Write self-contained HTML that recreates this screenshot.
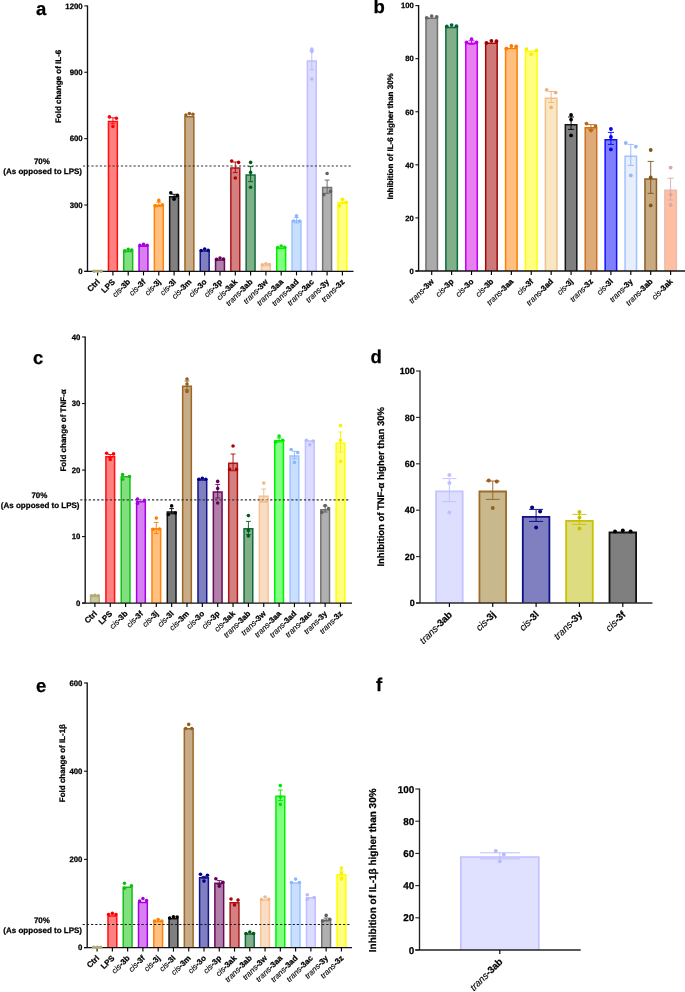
<!DOCTYPE html>
<html><head><meta charset="utf-8"><style>
html,body{margin:0;padding:0;background:#fff;}
body{width:685px;height:992px;overflow:hidden;font-family:"Liberation Sans", sans-serif;}
svg{display:block;will-change:transform;}
</style></head><body>
<svg width="685" height="992" viewBox="0 0 685 992" font-family='"Liberation Sans", sans-serif' fill="#000">
<style>text{stroke:#000;stroke-width:0.25px;text-rendering:geometricPrecision;}</style>
<g>
<rect width="685" height="992" fill="#fff"/>
<text x="36" y="14.6" font-size="18.5" font-weight="bold" text-anchor="start">a</text>
<text transform="translate(61,86.4) rotate(-90)" font-size="8" font-weight="bold" text-anchor="middle">Fold change of IL-6</text>
<text x="41.9" y="163.8" font-size="8" font-weight="bold" text-anchor="middle">70%</text>
<text x="42.7" y="173.7" font-size="8" font-weight="bold" text-anchor="middle">(As opposed to LPS)</text>
<path d="M93.15 271.4V270.9H102.05V271.4Z" fill="#cac8a0" stroke="none"/>
<path d="M93.15 271.4V270.9H102.05V271.4" fill="none" stroke="#b5ab72" stroke-width="1.5" stroke-linejoin="miter"/>
<path d="M108.45 271.4V121.55H117.35V271.4Z" fill="#ff8080" stroke="none"/>
<path d="M108.45 271.4V121.55H117.35V271.4" fill="none" stroke="#ff1111" stroke-width="1.5" stroke-linejoin="miter"/>
<path d="M123.75 271.4V251.45H132.65V271.4Z" fill="#80e080" stroke="none"/>
<path d="M123.75 271.4V251.45H132.65V271.4" fill="none" stroke="#14c014" stroke-width="1.5" stroke-linejoin="miter"/>
<path d="M139.05 271.4V246.25H147.95V271.4Z" fill="#d880f0" stroke="none"/>
<path d="M139.05 271.4V246.25H147.95V271.4" fill="none" stroke="#a800e6" stroke-width="1.5" stroke-linejoin="miter"/>
<path d="M154.35 271.4V205.15H163.25V271.4Z" fill="#ffc080" stroke="none"/>
<path d="M154.35 271.4V205.15H163.25V271.4" fill="none" stroke="#ff8410" stroke-width="1.5" stroke-linejoin="miter"/>
<path d="M169.65 271.4V196.85H178.55V271.4Z" fill="#808080" stroke="none"/>
<path d="M169.65 271.4V196.85H178.55V271.4" fill="none" stroke="#141414" stroke-width="1.5" stroke-linejoin="miter"/>
<path d="M184.95 271.4V116.75H193.85V271.4Z" fill="#c8ab88" stroke="none"/>
<path d="M184.95 271.4V116.75H193.85V271.4" fill="none" stroke="#9c6826" stroke-width="1.5" stroke-linejoin="miter"/>
<path d="M200.25 271.4V251.05H209.15V271.4Z" fill="#8080c0" stroke="none"/>
<path d="M200.25 271.4V251.05H209.15V271.4" fill="none" stroke="#14148c" stroke-width="1.5" stroke-linejoin="miter"/>
<path d="M215.55 271.4V259.95H224.45V271.4Z" fill="#b080a8" stroke="none"/>
<path d="M215.55 271.4V259.95H224.45V271.4" fill="none" stroke="#6a0a5e" stroke-width="1.5" stroke-linejoin="miter"/>
<path d="M230.85 271.4V168.05H239.75V271.4Z" fill="#d48080" stroke="none"/>
<path d="M230.85 271.4V168.05H239.75V271.4" fill="none" stroke="#a81818" stroke-width="1.5" stroke-linejoin="miter"/>
<path d="M246.15 271.4V174.95H255.05V271.4Z" fill="#80b088" stroke="none"/>
<path d="M246.15 271.4V174.95H255.05V271.4" fill="none" stroke="#106a40" stroke-width="1.5" stroke-linejoin="miter"/>
<path d="M261.45 271.4V265.45H270.35V271.4Z" fill="#f9dcc4" stroke="none"/>
<path d="M261.45 271.4V265.45H270.35V271.4" fill="none" stroke="#f4c494" stroke-width="1.5" stroke-linejoin="miter"/>
<path d="M276.75 271.4V248.25H285.65V271.4Z" fill="#80ff80" stroke="none"/>
<path d="M276.75 271.4V248.25H285.65V271.4" fill="none" stroke="#00f000" stroke-width="1.5" stroke-linejoin="miter"/>
<path d="M292.05 271.4V220.95H300.95V271.4Z" fill="#c8dfff" stroke="none"/>
<path d="M292.05 271.4V220.95H300.95V271.4" fill="none" stroke="#9cc4ff" stroke-width="1.5" stroke-linejoin="miter"/>
<path d="M307.35 271.4V60.95H316.25V271.4Z" fill="#dcdcff" stroke="none"/>
<path d="M307.35 271.4V60.95H316.25V271.4" fill="none" stroke="#c0c0ff" stroke-width="1.5" stroke-linejoin="miter"/>
<path d="M322.65 271.4V187.45H331.55V271.4Z" fill="#b0b0b0" stroke="none"/>
<path d="M322.65 271.4V187.45H331.55V271.4" fill="none" stroke="#747474" stroke-width="1.5" stroke-linejoin="miter"/>
<path d="M337.95 271.4V202.55H346.85V271.4Z" fill="#ffff80" stroke="none"/>
<path d="M337.95 271.4V202.55H346.85V271.4" fill="none" stroke="#ffff00" stroke-width="1.5" stroke-linejoin="miter"/>
<path d="M82.96 166H351.3" stroke="#333" stroke-width="1.2" stroke-dasharray="2.2 2.015" fill="none"/>
<path d="M87.5 5.4V271.4" stroke="#111" stroke-width="1.35" fill="none"/>
<path d="M84.3 271.4H353.5" stroke="#111" stroke-width="1.35" fill="none"/>
<path d="M84.3 271.4H87.5" stroke="#111" stroke-width="1.1" fill="none"/>
<text x="82.7" y="274.19" font-size="7.8" font-weight="bold" text-anchor="end">0</text>
<path d="M84.3 205.02H87.5" stroke="#111" stroke-width="1.1" fill="none"/>
<text x="82.7" y="207.82" font-size="7.8" font-weight="bold" text-anchor="end">300</text>
<path d="M84.3 138.65H87.5" stroke="#111" stroke-width="1.1" fill="none"/>
<text x="82.7" y="141.44" font-size="7.8" font-weight="bold" text-anchor="end">600</text>
<path d="M84.3 72.27H87.5" stroke="#111" stroke-width="1.1" fill="none"/>
<text x="82.7" y="75.07" font-size="7.8" font-weight="bold" text-anchor="end">900</text>
<path d="M84.3 5.9H87.5" stroke="#111" stroke-width="1.1" fill="none"/>
<text x="82.7" y="8.69" font-size="7.8" font-weight="bold" text-anchor="end">1200</text>
<path d="M97.6 271.4V275.4" stroke="#000" stroke-width="1.15" fill="none"/>
<path d="M112.9 271.4V275.4" stroke="#000" stroke-width="1.15" fill="none"/>
<path d="M128.2 271.4V275.4" stroke="#000" stroke-width="1.15" fill="none"/>
<path d="M143.5 271.4V275.4" stroke="#000" stroke-width="1.15" fill="none"/>
<path d="M158.8 271.4V275.4" stroke="#000" stroke-width="1.15" fill="none"/>
<path d="M174.1 271.4V275.4" stroke="#000" stroke-width="1.15" fill="none"/>
<path d="M189.4 271.4V275.4" stroke="#000" stroke-width="1.15" fill="none"/>
<path d="M204.7 271.4V275.4" stroke="#000" stroke-width="1.15" fill="none"/>
<path d="M220 271.4V275.4" stroke="#000" stroke-width="1.15" fill="none"/>
<path d="M235.3 271.4V275.4" stroke="#000" stroke-width="1.15" fill="none"/>
<path d="M250.6 271.4V275.4" stroke="#000" stroke-width="1.15" fill="none"/>
<path d="M265.9 271.4V275.4" stroke="#000" stroke-width="1.15" fill="none"/>
<path d="M281.2 271.4V275.4" stroke="#000" stroke-width="1.15" fill="none"/>
<path d="M296.5 271.4V275.4" stroke="#000" stroke-width="1.15" fill="none"/>
<path d="M311.8 271.4V275.4" stroke="#000" stroke-width="1.15" fill="none"/>
<path d="M327.1 271.4V275.4" stroke="#000" stroke-width="1.15" fill="none"/>
<path d="M342.4 271.4V275.4" stroke="#000" stroke-width="1.15" fill="none"/>
<circle cx="94.2" cy="271.2" r="1.8" fill="#b3aa74"/>
<circle cx="97.6" cy="271.2" r="1.8" fill="#b3aa74"/>
<circle cx="101" cy="271.2" r="1.8" fill="#b3aa74"/>
<path d="M112.9 117.8V123.8M110.46 117.8H115.34M110.46 123.8H115.34" stroke="#ff0000" stroke-width="0.9" fill="none"/>
<circle cx="109.4" cy="116.9" r="1.8" fill="#ff0000"/>
<circle cx="116.4" cy="118.2" r="1.8" fill="#ff0000"/>
<circle cx="112.9" cy="126.5" r="1.8" fill="#ff0000"/>
<circle cx="124.7" cy="250.9" r="1.8" fill="#10c010"/>
<circle cx="128.2" cy="249.4" r="1.8" fill="#10c010"/>
<circle cx="131.7" cy="250.1" r="1.8" fill="#10c010"/>
<circle cx="139.9" cy="245.4" r="1.8" fill="#a400e4"/>
<circle cx="143.5" cy="244.4" r="1.8" fill="#a400e4"/>
<circle cx="147.1" cy="245.2" r="1.8" fill="#a400e4"/>
<path d="M158.8 202.2V206.6M156.36 202.2H161.24M156.36 206.6H161.24" stroke="#ff8000" stroke-width="0.9" fill="none"/>
<circle cx="158.8" cy="200.4" r="1.8" fill="#ff8000"/>
<circle cx="155.2" cy="205.9" r="1.8" fill="#ff8000"/>
<circle cx="162.4" cy="204.9" r="1.8" fill="#ff8000"/>
<path d="M174.1 194.3V197.9M171.66 194.3H176.54M171.66 197.9H176.54" stroke="#000000" stroke-width="0.9" fill="none"/>
<circle cx="170.8" cy="192.9" r="1.8" fill="#000000"/>
<circle cx="177.4" cy="195.2" r="1.8" fill="#000000"/>
<circle cx="174.1" cy="199.2" r="1.8" fill="#000000"/>
<circle cx="185.9" cy="115.1" r="1.8" fill="#946020"/>
<circle cx="189.4" cy="113.6" r="1.8" fill="#946020"/>
<circle cx="192.9" cy="114.3" r="1.8" fill="#946020"/>
<circle cx="201.2" cy="250.5" r="1.8" fill="#000088"/>
<circle cx="204.7" cy="249" r="1.8" fill="#000088"/>
<circle cx="208.2" cy="250.2" r="1.8" fill="#000088"/>
<circle cx="216.5" cy="259.4" r="1.8" fill="#640058"/>
<circle cx="220" cy="258" r="1.8" fill="#640058"/>
<circle cx="223.5" cy="259" r="1.8" fill="#640058"/>
<path d="M235.3 162V172.6M232.86 162H237.74M232.86 172.6H237.74" stroke="#b00000" stroke-width="0.9" fill="none"/>
<circle cx="231.7" cy="161.1" r="1.8" fill="#b00000"/>
<circle cx="238.6" cy="162.4" r="1.8" fill="#b00000"/>
<circle cx="235.3" cy="178" r="1.8" fill="#b00000"/>
<path d="M250.6 166.6V181.6M248.16 166.6H253.04M248.16 181.6H253.04" stroke="#005a18" stroke-width="0.9" fill="none"/>
<circle cx="250.6" cy="162.4" r="1.8" fill="#005a18"/>
<circle cx="250.6" cy="172.4" r="1.8" fill="#005a18"/>
<circle cx="250.6" cy="187.2" r="1.8" fill="#005a18"/>
<circle cx="262.4" cy="264.8" r="1.8" fill="#f0b888"/>
<circle cx="265.9" cy="263.8" r="1.8" fill="#f0b888"/>
<circle cx="269.4" cy="264.5" r="1.8" fill="#f0b888"/>
<circle cx="277.7" cy="247.6" r="1.8" fill="#00e800"/>
<circle cx="281.2" cy="246" r="1.8" fill="#00e800"/>
<circle cx="284.7" cy="247.2" r="1.8" fill="#00e800"/>
<path d="M296.5 217.5V222.9M294.06 217.5H298.94M294.06 222.9H298.94" stroke="#8ab8ff" stroke-width="0.9" fill="none"/>
<circle cx="296.5" cy="215.8" r="1.8" fill="#8ab8ff"/>
<circle cx="293.5" cy="221" r="1.8" fill="#8ab8ff"/>
<circle cx="299.5" cy="221" r="1.8" fill="#8ab8ff"/>
<path d="M311.8 50.6V69.8M309.36 50.6H314.24M309.36 69.8H314.24" stroke="#b8b8ff" stroke-width="0.9" fill="none"/>
<circle cx="311.8" cy="49" r="1.8" fill="#b8b8ff"/>
<circle cx="311.8" cy="51.6" r="1.8" fill="#b8b8ff"/>
<circle cx="311.8" cy="79" r="1.8" fill="#b8b8ff"/>
<path d="M327.1 180.1V193.3M324.66 180.1H329.54M324.66 193.3H329.54" stroke="#606060" stroke-width="0.9" fill="none"/>
<circle cx="327.1" cy="173.5" r="1.8" fill="#606060"/>
<circle cx="330.5" cy="191.4" r="1.8" fill="#606060"/>
<circle cx="323.8" cy="194.6" r="1.8" fill="#606060"/>
<path d="M342.4 200V203.6M339.96 200H344.84M339.96 203.6H344.84" stroke="#f8f000" stroke-width="0.9" fill="none"/>
<circle cx="342.4" cy="199.2" r="1.8" fill="#f8f000"/>
<circle cx="339.4" cy="205.9" r="1.8" fill="#f8f000"/>
<circle cx="346.2" cy="202.3" r="1.8" fill="#f8f000"/>
<text transform="translate(100.2,282.4) rotate(-45)" font-size="8" text-anchor="end"><tspan font-weight="bold">Ctrl</tspan></text>
<text transform="translate(115.5,282.4) rotate(-45)" font-size="8" text-anchor="end"><tspan font-weight="bold">LPS</tspan></text>
<text transform="translate(130.8,282.4) rotate(-45)" font-size="8" text-anchor="end"><tspan font-style="italic" font-weight="normal" stroke-width="0.12">cis</tspan><tspan font-weight="bold">-3b</tspan></text>
<text transform="translate(146.1,282.4) rotate(-45)" font-size="8" text-anchor="end"><tspan font-style="italic" font-weight="normal" stroke-width="0.12">cis</tspan><tspan font-weight="bold">-3f</tspan></text>
<text transform="translate(161.4,282.4) rotate(-45)" font-size="8" text-anchor="end"><tspan font-style="italic" font-weight="normal" stroke-width="0.12">cis</tspan><tspan font-weight="bold">-3j</tspan></text>
<text transform="translate(176.7,282.4) rotate(-45)" font-size="8" text-anchor="end"><tspan font-style="italic" font-weight="normal" stroke-width="0.12">cis</tspan><tspan font-weight="bold">-3l</tspan></text>
<text transform="translate(192,282.4) rotate(-45)" font-size="8" text-anchor="end"><tspan font-style="italic" font-weight="normal" stroke-width="0.12">cis</tspan><tspan font-weight="bold">-3m</tspan></text>
<text transform="translate(207.3,282.4) rotate(-45)" font-size="8" text-anchor="end"><tspan font-style="italic" font-weight="normal" stroke-width="0.12">cis</tspan><tspan font-weight="bold">-3o</tspan></text>
<text transform="translate(222.6,282.4) rotate(-45)" font-size="8" text-anchor="end"><tspan font-style="italic" font-weight="normal" stroke-width="0.12">cis</tspan><tspan font-weight="bold">-3p</tspan></text>
<text transform="translate(237.9,282.4) rotate(-45)" font-size="8" text-anchor="end"><tspan font-style="italic" font-weight="normal" stroke-width="0.12">cis</tspan><tspan font-weight="bold">-3ak</tspan></text>
<text transform="translate(253.2,282.4) rotate(-45)" font-size="8" text-anchor="end"><tspan font-style="italic" font-weight="normal" stroke-width="0.12">trans</tspan><tspan font-weight="bold">-3ab</tspan></text>
<text transform="translate(268.5,282.4) rotate(-45)" font-size="8" text-anchor="end"><tspan font-style="italic" font-weight="normal" stroke-width="0.12">trans</tspan><tspan font-weight="bold">-3w</tspan></text>
<text transform="translate(283.8,282.4) rotate(-45)" font-size="8" text-anchor="end"><tspan font-style="italic" font-weight="normal" stroke-width="0.12">trans</tspan><tspan font-weight="bold">-3aa</tspan></text>
<text transform="translate(299.1,282.4) rotate(-45)" font-size="8" text-anchor="end"><tspan font-style="italic" font-weight="normal" stroke-width="0.12">trans</tspan><tspan font-weight="bold">-3ad</tspan></text>
<text transform="translate(314.4,282.4) rotate(-45)" font-size="8" text-anchor="end"><tspan font-style="italic" font-weight="normal" stroke-width="0.12">trans</tspan><tspan font-weight="bold">-3ac</tspan></text>
<text transform="translate(329.7,282.4) rotate(-45)" font-size="8" text-anchor="end"><tspan font-style="italic" font-weight="normal" stroke-width="0.12">trans</tspan><tspan font-weight="bold">-3y</tspan></text>
<text transform="translate(345,282.4) rotate(-45)" font-size="8" text-anchor="end"><tspan font-style="italic" font-weight="normal" stroke-width="0.12">trans</tspan><tspan font-weight="bold">-3z</tspan></text>
<text x="373.4" y="13.3" font-size="18.5" font-weight="bold" text-anchor="start">b</text>
<text transform="translate(392.8,136.4) rotate(-90)" font-size="8" font-weight="bold" text-anchor="middle">Inhibition of IL-6 higher than 30%</text>
<path d="M425.95 271V18.35H437.45V271Z" fill="#ababab" stroke="none"/>
<path d="M425.95 271V18.35H437.45V271" fill="none" stroke="#707070" stroke-width="1.5" stroke-linejoin="miter"/>
<path d="M445.86 271V27.55H457.36V271Z" fill="#80b088" stroke="none"/>
<path d="M445.86 271V27.55H457.36V271" fill="none" stroke="#0f6b40" stroke-width="1.5" stroke-linejoin="miter"/>
<path d="M465.77 271V43.35H477.27V271Z" fill="#e880f0" stroke="none"/>
<path d="M465.77 271V43.35H477.27V271" fill="none" stroke="#c400ec" stroke-width="1.5" stroke-linejoin="miter"/>
<path d="M485.68 271V43.25H497.18V271Z" fill="#cf7878" stroke="none"/>
<path d="M485.68 271V43.25H497.18V271" fill="none" stroke="#a30808" stroke-width="1.5" stroke-linejoin="miter"/>
<path d="M505.59 271V48.55H517.09V271Z" fill="#ffbf80" stroke="none"/>
<path d="M505.59 271V48.55H517.09V271" fill="none" stroke="#ff7f00" stroke-width="1.5" stroke-linejoin="miter"/>
<path d="M525.5 271V51.55H537V271Z" fill="#ffff80" stroke="none"/>
<path d="M525.5 271V51.55H537V271" fill="none" stroke="#ffff00" stroke-width="1.5" stroke-linejoin="miter"/>
<path d="M545.41 271V98.15H556.91V271Z" fill="#f8e8c2" stroke="none"/>
<path d="M545.41 271V98.15H556.91V271" fill="none" stroke="#f4c08c" stroke-width="1.5" stroke-linejoin="miter"/>
<path d="M565.32 271V124.75H576.82V271Z" fill="#7f7f7f" stroke="none"/>
<path d="M565.32 271V124.75H576.82V271" fill="none" stroke="#141414" stroke-width="1.5" stroke-linejoin="miter"/>
<path d="M585.23 271V127.75H596.73V271Z" fill="#e0aa78" stroke="none"/>
<path d="M585.23 271V127.75H596.73V271" fill="none" stroke="#c8741e" stroke-width="1.5" stroke-linejoin="miter"/>
<path d="M605.14 271V139.75H616.64V271Z" fill="#8080ff" stroke="none"/>
<path d="M605.14 271V139.75H616.64V271" fill="none" stroke="#1010ff" stroke-width="1.5" stroke-linejoin="miter"/>
<path d="M625.05 271V156.15H636.55V271Z" fill="#e8eefa" stroke="none"/>
<path d="M625.05 271V156.15H636.55V271" fill="none" stroke="#a0c4ff" stroke-width="1.5" stroke-linejoin="miter"/>
<path d="M644.96 271V178.95H656.46V271Z" fill="#c8aa80" stroke="none"/>
<path d="M644.96 271V178.95H656.46V271" fill="none" stroke="#8a5e28" stroke-width="1.5" stroke-linejoin="miter"/>
<path d="M664.87 271V190.15H676.37V271Z" fill="#ffbfa0" stroke="none"/>
<path d="M664.87 271V190.15H676.37V271" fill="none" stroke="#e8bcb4" stroke-width="1.5" stroke-linejoin="miter"/>
<path d="M418.6 5.1V271" stroke="#111" stroke-width="1.35" fill="none"/>
<path d="M415.4 271H685" stroke="#111" stroke-width="1.35" fill="none"/>
<path d="M415.4 271H418.6" stroke="#111" stroke-width="1.1" fill="none"/>
<text x="413.8" y="273.76" font-size="7.7" font-weight="bold" text-anchor="end">0</text>
<path d="M415.4 217.92H418.6" stroke="#111" stroke-width="1.1" fill="none"/>
<text x="413.8" y="220.68" font-size="7.7" font-weight="bold" text-anchor="end">20</text>
<path d="M415.4 164.84H418.6" stroke="#111" stroke-width="1.1" fill="none"/>
<text x="413.8" y="167.6" font-size="7.7" font-weight="bold" text-anchor="end">40</text>
<path d="M415.4 111.76H418.6" stroke="#111" stroke-width="1.1" fill="none"/>
<text x="413.8" y="114.52" font-size="7.7" font-weight="bold" text-anchor="end">60</text>
<path d="M415.4 58.68H418.6" stroke="#111" stroke-width="1.1" fill="none"/>
<text x="413.8" y="61.44" font-size="7.7" font-weight="bold" text-anchor="end">80</text>
<path d="M415.4 5.6H418.6" stroke="#111" stroke-width="1.1" fill="none"/>
<text x="413.8" y="8.36" font-size="7.7" font-weight="bold" text-anchor="end">100</text>
<path d="M431.7 271V275" stroke="#000" stroke-width="1.15" fill="none"/>
<path d="M451.61 271V275" stroke="#000" stroke-width="1.15" fill="none"/>
<path d="M471.52 271V275" stroke="#000" stroke-width="1.15" fill="none"/>
<path d="M491.43 271V275" stroke="#000" stroke-width="1.15" fill="none"/>
<path d="M511.34 271V275" stroke="#000" stroke-width="1.15" fill="none"/>
<path d="M531.25 271V275" stroke="#000" stroke-width="1.15" fill="none"/>
<path d="M551.16 271V275" stroke="#000" stroke-width="1.15" fill="none"/>
<path d="M571.07 271V275" stroke="#000" stroke-width="1.15" fill="none"/>
<path d="M590.98 271V275" stroke="#000" stroke-width="1.15" fill="none"/>
<path d="M610.89 271V275" stroke="#000" stroke-width="1.15" fill="none"/>
<path d="M630.8 271V275" stroke="#000" stroke-width="1.15" fill="none"/>
<path d="M650.71 271V275" stroke="#000" stroke-width="1.15" fill="none"/>
<path d="M670.62 271V275" stroke="#000" stroke-width="1.15" fill="none"/>
<circle cx="426.7" cy="17.8" r="1.9" fill="#666666"/>
<circle cx="431.7" cy="16.1" r="1.9" fill="#666666"/>
<circle cx="436.7" cy="16.8" r="1.9" fill="#666666"/>
<circle cx="446.81" cy="26.4" r="1.9" fill="#0a6038"/>
<circle cx="451.61" cy="25.1" r="1.9" fill="#0a6038"/>
<circle cx="456.41" cy="26.2" r="1.9" fill="#0a6038"/>
<path d="M471.52 40.8V44.4M468.46 40.8H474.57M468.46 44.4H474.57" stroke="#c000e8" stroke-width="0.9" fill="none"/>
<circle cx="471.52" cy="39.1" r="1.9" fill="#c000e8"/>
<circle cx="466.52" cy="42.5" r="1.9" fill="#c000e8"/>
<circle cx="476.52" cy="42.5" r="1.9" fill="#c000e8"/>
<circle cx="486.43" cy="42.9" r="1.9" fill="#a00000"/>
<circle cx="491.43" cy="40.8" r="1.9" fill="#a00000"/>
<circle cx="496.43" cy="41.2" r="1.9" fill="#a00000"/>
<circle cx="506.34" cy="48.6" r="1.9" fill="#ff7800"/>
<circle cx="511.34" cy="46" r="1.9" fill="#ff7800"/>
<circle cx="516.14" cy="46.4" r="1.9" fill="#ff7800"/>
<circle cx="526.45" cy="49.1" r="1.9" fill="#f8f000"/>
<circle cx="536.35" cy="50.4" r="1.9" fill="#f8f000"/>
<circle cx="531.25" cy="54.3" r="1.9" fill="#f8f000"/>
<path d="M551.16 91.5V102.5M548.11 91.5H554.21M548.11 102.5H554.21" stroke="#f0b07c" stroke-width="0.9" fill="none"/>
<circle cx="546.66" cy="89.8" r="1.9" fill="#f0b07c"/>
<circle cx="555.66" cy="92.6" r="1.9" fill="#f0b07c"/>
<circle cx="551.16" cy="107.4" r="1.9" fill="#f0b07c"/>
<path d="M571.07 117V129.4M568.01 117H574.12M568.01 129.4H574.12" stroke="#000000" stroke-width="0.9" fill="none"/>
<circle cx="571.07" cy="115" r="1.9" fill="#000000"/>
<circle cx="571.07" cy="119.6" r="1.9" fill="#000000"/>
<circle cx="571.07" cy="135.4" r="1.9" fill="#000000"/>
<path d="M590.98 124.6V129.4M587.93 124.6H594.03M587.93 129.4H594.03" stroke="#c06810" stroke-width="0.9" fill="none"/>
<circle cx="586.48" cy="123.6" r="1.9" fill="#c06810"/>
<circle cx="595.48" cy="126" r="1.9" fill="#c06810"/>
<circle cx="590.98" cy="130.6" r="1.9" fill="#c06810"/>
<path d="M610.89 132.4V144.4M607.84 132.4H613.94M607.84 144.4H613.94" stroke="#0000ff" stroke-width="0.9" fill="none"/>
<circle cx="610.89" cy="129" r="1.9" fill="#0000ff"/>
<circle cx="610.89" cy="137" r="1.9" fill="#0000ff"/>
<circle cx="610.89" cy="149.4" r="1.9" fill="#0000ff"/>
<path d="M630.8 144.4V165.4M627.75 144.4H633.85M627.75 165.4H633.85" stroke="#90b8ff" stroke-width="0.9" fill="none"/>
<circle cx="625.8" cy="143" r="1.9" fill="#90b8ff"/>
<circle cx="635.8" cy="146.6" r="1.9" fill="#90b8ff"/>
<circle cx="630.8" cy="175.4" r="1.9" fill="#90b8ff"/>
<path d="M650.71 161.4V193.4M647.66 161.4H653.76M647.66 193.4H653.76" stroke="#80541c" stroke-width="0.9" fill="none"/>
<circle cx="650.71" cy="150" r="1.9" fill="#80541c"/>
<circle cx="650.71" cy="177.4" r="1.9" fill="#80541c"/>
<circle cx="650.71" cy="205.4" r="1.9" fill="#80541c"/>
<path d="M670.62 178.2V200M667.57 178.2H673.67M667.57 200H673.67" stroke="#d8a8a8" stroke-width="0.9" fill="none"/>
<circle cx="670.62" cy="167.6" r="1.9" fill="#d8a8a8"/>
<circle cx="670.62" cy="194.6" r="1.9" fill="#d8a8a8"/>
<circle cx="670.62" cy="205" r="1.9" fill="#d8a8a8"/>
<text transform="translate(434.3,282) rotate(-45)" font-size="8" text-anchor="end"><tspan font-style="italic" font-weight="normal" stroke-width="0.12">trans</tspan><tspan font-weight="bold">-3w</tspan></text>
<text transform="translate(454.21,282) rotate(-45)" font-size="8" text-anchor="end"><tspan font-style="italic" font-weight="normal" stroke-width="0.12">cis</tspan><tspan font-weight="bold">-3p</tspan></text>
<text transform="translate(474.12,282) rotate(-45)" font-size="8" text-anchor="end"><tspan font-style="italic" font-weight="normal" stroke-width="0.12">cis</tspan><tspan font-weight="bold">-3o</tspan></text>
<text transform="translate(494.03,282) rotate(-45)" font-size="8" text-anchor="end"><tspan font-style="italic" font-weight="normal" stroke-width="0.12">cis</tspan><tspan font-weight="bold">-3b</tspan></text>
<text transform="translate(513.94,282) rotate(-45)" font-size="8" text-anchor="end"><tspan font-style="italic" font-weight="normal" stroke-width="0.12">trans</tspan><tspan font-weight="bold">-3aa</tspan></text>
<text transform="translate(533.85,282) rotate(-45)" font-size="8" text-anchor="end"><tspan font-style="italic" font-weight="normal" stroke-width="0.12">cis</tspan><tspan font-weight="bold">-3f</tspan></text>
<text transform="translate(553.76,282) rotate(-45)" font-size="8" text-anchor="end"><tspan font-style="italic" font-weight="normal" stroke-width="0.12">trans</tspan><tspan font-weight="bold">-3ad</tspan></text>
<text transform="translate(573.67,282) rotate(-45)" font-size="8" text-anchor="end"><tspan font-style="italic" font-weight="normal" stroke-width="0.12">cis</tspan><tspan font-weight="bold">-3j</tspan></text>
<text transform="translate(593.58,282) rotate(-45)" font-size="8" text-anchor="end"><tspan font-style="italic" font-weight="normal" stroke-width="0.12">trans</tspan><tspan font-weight="bold">-3z</tspan></text>
<text transform="translate(613.49,282) rotate(-45)" font-size="8" text-anchor="end"><tspan font-style="italic" font-weight="normal" stroke-width="0.12">cis</tspan><tspan font-weight="bold">-3l</tspan></text>
<text transform="translate(633.4,282) rotate(-45)" font-size="8" text-anchor="end"><tspan font-style="italic" font-weight="normal" stroke-width="0.12">trans</tspan><tspan font-weight="bold">-3y</tspan></text>
<text transform="translate(653.31,282) rotate(-45)" font-size="8" text-anchor="end"><tspan font-style="italic" font-weight="normal" stroke-width="0.12">trans</tspan><tspan font-weight="bold">-3ab</tspan></text>
<text transform="translate(673.22,282) rotate(-45)" font-size="8" text-anchor="end"><tspan font-style="italic" font-weight="normal" stroke-width="0.12">cis</tspan><tspan font-weight="bold">-3ak</tspan></text>
<text x="33" y="364.4" font-size="18.5" font-weight="bold" text-anchor="start">c</text>
<text transform="translate(66,430.4) rotate(-90)" font-size="8" font-weight="bold" text-anchor="middle">Fold change of TNF-α</text>
<text x="39.4" y="497.8" font-size="8" font-weight="bold" text-anchor="middle">70%</text>
<text x="40.2" y="507.6" font-size="8" font-weight="bold" text-anchor="middle">(As opposed to LPS)</text>
<path d="M90.55 603.1V596.15H99.25V603.1Z" fill="#cac8a0" stroke="none"/>
<path d="M90.55 603.1V596.15H99.25V603.1" fill="none" stroke="#b5ab72" stroke-width="1.5" stroke-linejoin="miter"/>
<path d="M105.9 603.1V456.75H114.6V603.1Z" fill="#ff8080" stroke="none"/>
<path d="M105.9 603.1V456.75H114.6V603.1" fill="none" stroke="#ff1111" stroke-width="1.5" stroke-linejoin="miter"/>
<path d="M121.25 603.1V476.75H129.95V603.1Z" fill="#80e080" stroke="none"/>
<path d="M121.25 603.1V476.75H129.95V603.1" fill="none" stroke="#14c014" stroke-width="1.5" stroke-linejoin="miter"/>
<path d="M136.6 603.1V501.75H145.3V603.1Z" fill="#d880f0" stroke="none"/>
<path d="M136.6 603.1V501.75H145.3V603.1" fill="none" stroke="#a800e6" stroke-width="1.5" stroke-linejoin="miter"/>
<path d="M151.95 603.1V528.75H160.65V603.1Z" fill="#ffc080" stroke="none"/>
<path d="M151.95 603.1V528.75H160.65V603.1" fill="none" stroke="#ff8410" stroke-width="1.5" stroke-linejoin="miter"/>
<path d="M167.3 603.1V511.95H176V603.1Z" fill="#808080" stroke="none"/>
<path d="M167.3 603.1V511.95H176V603.1" fill="none" stroke="#141414" stroke-width="1.5" stroke-linejoin="miter"/>
<path d="M182.65 603.1V386.15H191.35V603.1Z" fill="#c8ab88" stroke="none"/>
<path d="M182.65 603.1V386.15H191.35V603.1" fill="none" stroke="#9c6826" stroke-width="1.5" stroke-linejoin="miter"/>
<path d="M198 603.1V479.95H206.7V603.1Z" fill="#8080c0" stroke="none"/>
<path d="M198 603.1V479.95H206.7V603.1" fill="none" stroke="#14148c" stroke-width="1.5" stroke-linejoin="miter"/>
<path d="M213.35 603.1V491.95H222.05V603.1Z" fill="#b080a8" stroke="none"/>
<path d="M213.35 603.1V491.95H222.05V603.1" fill="none" stroke="#6a0a5e" stroke-width="1.5" stroke-linejoin="miter"/>
<path d="M228.7 603.1V463.15H237.4V603.1Z" fill="#d48080" stroke="none"/>
<path d="M228.7 603.1V463.15H237.4V603.1" fill="none" stroke="#a81818" stroke-width="1.5" stroke-linejoin="miter"/>
<path d="M244.05 603.1V528.75H252.75V603.1Z" fill="#80b088" stroke="none"/>
<path d="M244.05 603.1V528.75H252.75V603.1" fill="none" stroke="#106a40" stroke-width="1.5" stroke-linejoin="miter"/>
<path d="M259.4 603.1V496.35H268.1V603.1Z" fill="#f9dcc4" stroke="none"/>
<path d="M259.4 603.1V496.35H268.1V603.1" fill="none" stroke="#f4c494" stroke-width="1.5" stroke-linejoin="miter"/>
<path d="M274.75 603.1V440.75H283.45V603.1Z" fill="#80ff80" stroke="none"/>
<path d="M274.75 603.1V440.75H283.45V603.1" fill="none" stroke="#00f000" stroke-width="1.5" stroke-linejoin="miter"/>
<path d="M290.1 603.1V456.05H298.8V603.1Z" fill="#c8dfff" stroke="none"/>
<path d="M290.1 603.1V456.05H298.8V603.1" fill="none" stroke="#9cc4ff" stroke-width="1.5" stroke-linejoin="miter"/>
<path d="M305.45 603.1V441.05H314.15V603.1Z" fill="#dcdcff" stroke="none"/>
<path d="M305.45 603.1V441.05H314.15V603.1" fill="none" stroke="#c0c0ff" stroke-width="1.5" stroke-linejoin="miter"/>
<path d="M320.8 603.1V509.75H329.5V603.1Z" fill="#b0b0b0" stroke="none"/>
<path d="M320.8 603.1V509.75H329.5V603.1" fill="none" stroke="#747474" stroke-width="1.5" stroke-linejoin="miter"/>
<path d="M336.15 603.1V443.35H344.85V603.1Z" fill="#ffff80" stroke="none"/>
<path d="M336.15 603.1V443.35H344.85V603.1" fill="none" stroke="#ffff00" stroke-width="1.5" stroke-linejoin="miter"/>
<path d="M80.25 499.8H349" stroke="#333" stroke-width="1.2" stroke-dasharray="2.2 2.02" fill="none"/>
<path d="M85.2 336.5V603.1" stroke="#111" stroke-width="1.35" fill="none"/>
<path d="M82 603.1H352" stroke="#111" stroke-width="1.35" fill="none"/>
<path d="M82 603.1H85.2" stroke="#111" stroke-width="1.1" fill="none"/>
<text x="80.4" y="605.89" font-size="7.8" font-weight="bold" text-anchor="end">0</text>
<path d="M82 536.58H85.2" stroke="#111" stroke-width="1.1" fill="none"/>
<text x="80.4" y="539.37" font-size="7.8" font-weight="bold" text-anchor="end">10</text>
<path d="M82 470.05H85.2" stroke="#111" stroke-width="1.1" fill="none"/>
<text x="80.4" y="472.84" font-size="7.8" font-weight="bold" text-anchor="end">20</text>
<path d="M82 403.52H85.2" stroke="#111" stroke-width="1.1" fill="none"/>
<text x="80.4" y="406.32" font-size="7.8" font-weight="bold" text-anchor="end">30</text>
<path d="M82 337H85.2" stroke="#111" stroke-width="1.1" fill="none"/>
<text x="80.4" y="339.79" font-size="7.8" font-weight="bold" text-anchor="end">40</text>
<path d="M94.9 603.1V607.1" stroke="#000" stroke-width="1.15" fill="none"/>
<path d="M110.25 603.1V607.1" stroke="#000" stroke-width="1.15" fill="none"/>
<path d="M125.6 603.1V607.1" stroke="#000" stroke-width="1.15" fill="none"/>
<path d="M140.95 603.1V607.1" stroke="#000" stroke-width="1.15" fill="none"/>
<path d="M156.3 603.1V607.1" stroke="#000" stroke-width="1.15" fill="none"/>
<path d="M171.65 603.1V607.1" stroke="#000" stroke-width="1.15" fill="none"/>
<path d="M187 603.1V607.1" stroke="#000" stroke-width="1.15" fill="none"/>
<path d="M202.35 603.1V607.1" stroke="#000" stroke-width="1.15" fill="none"/>
<path d="M217.7 603.1V607.1" stroke="#000" stroke-width="1.15" fill="none"/>
<path d="M233.05 603.1V607.1" stroke="#000" stroke-width="1.15" fill="none"/>
<path d="M248.4 603.1V607.1" stroke="#000" stroke-width="1.15" fill="none"/>
<path d="M263.75 603.1V607.1" stroke="#000" stroke-width="1.15" fill="none"/>
<path d="M279.1 603.1V607.1" stroke="#000" stroke-width="1.15" fill="none"/>
<path d="M294.45 603.1V607.1" stroke="#000" stroke-width="1.15" fill="none"/>
<path d="M309.8 603.1V607.1" stroke="#000" stroke-width="1.15" fill="none"/>
<path d="M325.15 603.1V607.1" stroke="#000" stroke-width="1.15" fill="none"/>
<path d="M340.5 603.1V607.1" stroke="#000" stroke-width="1.15" fill="none"/>
<circle cx="91.6" cy="595.7" r="1.8" fill="#b3aa74"/>
<circle cx="94.9" cy="595.2" r="1.8" fill="#b3aa74"/>
<circle cx="98.2" cy="595.7" r="1.8" fill="#b3aa74"/>
<path d="M110.25 454.5V457.5M107.85 454.5H112.65M107.85 457.5H112.65" stroke="#ff0000" stroke-width="0.9" fill="none"/>
<circle cx="106.65" cy="453.2" r="1.8" fill="#ff0000"/>
<circle cx="113.55" cy="453.9" r="1.8" fill="#ff0000"/>
<circle cx="110.25" cy="459.5" r="1.8" fill="#ff0000"/>
<circle cx="122.6" cy="474.6" r="1.8" fill="#10c010"/>
<circle cx="129.5" cy="476.5" r="1.8" fill="#10c010"/>
<circle cx="122.6" cy="479.3" r="1.8" fill="#10c010"/>
<circle cx="137.55" cy="499.1" r="1.8" fill="#a400e4"/>
<circle cx="144.35" cy="500.2" r="1.8" fill="#a400e4"/>
<circle cx="137.55" cy="503.5" r="1.8" fill="#a400e4"/>
<path d="M156.3 522.5V533.5M153.9 522.5H158.7M153.9 533.5H158.7" stroke="#ff8000" stroke-width="0.9" fill="none"/>
<circle cx="156.3" cy="518.1" r="1.8" fill="#ff8000"/>
<circle cx="153.1" cy="529.4" r="1.8" fill="#ff8000"/>
<circle cx="159.5" cy="529" r="1.8" fill="#ff8000"/>
<path d="M171.65 508.6V513.8M169.25 508.6H174.05M169.25 513.8H174.05" stroke="#000000" stroke-width="0.9" fill="none"/>
<circle cx="171.65" cy="505.9" r="1.8" fill="#000000"/>
<circle cx="168.35" cy="514.5" r="1.8" fill="#000000"/>
<circle cx="175.25" cy="513" r="1.8" fill="#000000"/>
<path d="M187 381V389.8M184.6 381H189.4M184.6 389.8H189.4" stroke="#946020" stroke-width="0.9" fill="none"/>
<circle cx="187" cy="379" r="1.8" fill="#946020"/>
<circle cx="187" cy="384" r="1.8" fill="#946020"/>
<circle cx="187" cy="391.4" r="1.8" fill="#946020"/>
<circle cx="198.85" cy="479.2" r="1.8" fill="#000088"/>
<circle cx="202.35" cy="478.2" r="1.8" fill="#000088"/>
<circle cx="205.85" cy="479.2" r="1.8" fill="#000088"/>
<path d="M217.7 484.4V498M215.3 484.4H220.1M215.3 498H220.1" stroke="#640058" stroke-width="0.9" fill="none"/>
<circle cx="217.7" cy="481.4" r="1.8" fill="#640058"/>
<circle cx="217.7" cy="488.4" r="1.8" fill="#640058"/>
<circle cx="217.7" cy="503" r="1.8" fill="#640058"/>
<path d="M233.05 454V470.8M230.65 454H235.45M230.65 470.8H235.45" stroke="#b00000" stroke-width="0.9" fill="none"/>
<circle cx="233.05" cy="446" r="1.8" fill="#b00000"/>
<circle cx="229.65" cy="469.4" r="1.8" fill="#b00000"/>
<circle cx="236.45" cy="469.4" r="1.8" fill="#b00000"/>
<path d="M248.4 521.4V534.6M246 521.4H250.8M246 534.6H250.8" stroke="#005a18" stroke-width="0.9" fill="none"/>
<circle cx="248.4" cy="515.6" r="1.8" fill="#005a18"/>
<circle cx="248.4" cy="530.4" r="1.8" fill="#005a18"/>
<circle cx="248.4" cy="536" r="1.8" fill="#005a18"/>
<path d="M263.75 489V502.2M261.35 489H266.15M261.35 502.2H266.15" stroke="#f0b888" stroke-width="0.9" fill="none"/>
<circle cx="263.75" cy="483" r="1.8" fill="#f0b888"/>
<circle cx="261.15" cy="501" r="1.8" fill="#f0b888"/>
<circle cx="266.35" cy="501" r="1.8" fill="#f0b888"/>
<path d="M279.1 438V442M276.7 438H281.5M276.7 442H281.5" stroke="#00e800" stroke-width="0.9" fill="none"/>
<circle cx="279.1" cy="436.1" r="1.8" fill="#00e800"/>
<circle cx="282.8" cy="440.2" r="1.8" fill="#00e800"/>
<circle cx="275.5" cy="442.2" r="1.8" fill="#00e800"/>
<path d="M294.45 451.3V458.6M292.05 451.3H296.85M292.05 458.6H296.85" stroke="#8ab8ff" stroke-width="0.9" fill="none"/>
<circle cx="291.15" cy="449.5" r="1.8" fill="#8ab8ff"/>
<circle cx="297.75" cy="452.6" r="1.8" fill="#8ab8ff"/>
<circle cx="294.45" cy="462.4" r="1.8" fill="#8ab8ff"/>
<circle cx="306.4" cy="440.3" r="1.8" fill="#b8b8ff"/>
<circle cx="313.2" cy="441" r="1.8" fill="#b8b8ff"/>
<circle cx="309.8" cy="444.7" r="1.8" fill="#b8b8ff"/>
<path d="M325.15 506V512M322.75 506H327.55M322.75 512H327.55" stroke="#606060" stroke-width="0.9" fill="none"/>
<circle cx="325.15" cy="505.6" r="1.8" fill="#606060"/>
<circle cx="321.75" cy="512.4" r="1.8" fill="#606060"/>
<circle cx="328.55" cy="508.6" r="1.8" fill="#606060"/>
<path d="M340.5 432V452M338.1 432H342.9M338.1 452H342.9" stroke="#f8f000" stroke-width="0.9" fill="none"/>
<circle cx="340.5" cy="425.6" r="1.8" fill="#f8f000"/>
<circle cx="340.5" cy="440.4" r="1.8" fill="#f8f000"/>
<circle cx="340.5" cy="461.4" r="1.8" fill="#f8f000"/>
<text transform="translate(97.5,614.1) rotate(-45)" font-size="8" text-anchor="end"><tspan font-weight="bold">Ctrl</tspan></text>
<text transform="translate(112.85,614.1) rotate(-45)" font-size="8" text-anchor="end"><tspan font-weight="bold">LPS</tspan></text>
<text transform="translate(128.2,614.1) rotate(-45)" font-size="8" text-anchor="end"><tspan font-style="italic" font-weight="normal" stroke-width="0.12">cis</tspan><tspan font-weight="bold">-3b</tspan></text>
<text transform="translate(143.55,614.1) rotate(-45)" font-size="8" text-anchor="end"><tspan font-style="italic" font-weight="normal" stroke-width="0.12">cis</tspan><tspan font-weight="bold">-3f</tspan></text>
<text transform="translate(158.9,614.1) rotate(-45)" font-size="8" text-anchor="end"><tspan font-style="italic" font-weight="normal" stroke-width="0.12">cis</tspan><tspan font-weight="bold">-3j</tspan></text>
<text transform="translate(174.25,614.1) rotate(-45)" font-size="8" text-anchor="end"><tspan font-style="italic" font-weight="normal" stroke-width="0.12">cis</tspan><tspan font-weight="bold">-3l</tspan></text>
<text transform="translate(189.6,614.1) rotate(-45)" font-size="8" text-anchor="end"><tspan font-style="italic" font-weight="normal" stroke-width="0.12">cis</tspan><tspan font-weight="bold">-3m</tspan></text>
<text transform="translate(204.95,614.1) rotate(-45)" font-size="8" text-anchor="end"><tspan font-style="italic" font-weight="normal" stroke-width="0.12">cis</tspan><tspan font-weight="bold">-3o</tspan></text>
<text transform="translate(220.3,614.1) rotate(-45)" font-size="8" text-anchor="end"><tspan font-style="italic" font-weight="normal" stroke-width="0.12">cis</tspan><tspan font-weight="bold">-3p</tspan></text>
<text transform="translate(235.65,614.1) rotate(-45)" font-size="8" text-anchor="end"><tspan font-style="italic" font-weight="normal" stroke-width="0.12">cis</tspan><tspan font-weight="bold">-3ak</tspan></text>
<text transform="translate(251,614.1) rotate(-45)" font-size="8" text-anchor="end"><tspan font-style="italic" font-weight="normal" stroke-width="0.12">trans</tspan><tspan font-weight="bold">-3ab</tspan></text>
<text transform="translate(266.35,614.1) rotate(-45)" font-size="8" text-anchor="end"><tspan font-style="italic" font-weight="normal" stroke-width="0.12">trans</tspan><tspan font-weight="bold">-3w</tspan></text>
<text transform="translate(281.7,614.1) rotate(-45)" font-size="8" text-anchor="end"><tspan font-style="italic" font-weight="normal" stroke-width="0.12">trans</tspan><tspan font-weight="bold">-3aa</tspan></text>
<text transform="translate(297.05,614.1) rotate(-45)" font-size="8" text-anchor="end"><tspan font-style="italic" font-weight="normal" stroke-width="0.12">trans</tspan><tspan font-weight="bold">-3ad</tspan></text>
<text transform="translate(312.4,614.1) rotate(-45)" font-size="8" text-anchor="end"><tspan font-style="italic" font-weight="normal" stroke-width="0.12">trans</tspan><tspan font-weight="bold">-3ac</tspan></text>
<text transform="translate(327.75,614.1) rotate(-45)" font-size="8" text-anchor="end"><tspan font-style="italic" font-weight="normal" stroke-width="0.12">trans</tspan><tspan font-weight="bold">-3y</tspan></text>
<text transform="translate(343.1,614.1) rotate(-45)" font-size="8" text-anchor="end"><tspan font-style="italic" font-weight="normal" stroke-width="0.12">trans</tspan><tspan font-weight="bold">-3z</tspan></text>
<text x="370.4" y="363" font-size="18.5" font-weight="bold" text-anchor="start">d</text>
<text transform="translate(384,486.9) rotate(-90)" font-size="9.45" font-weight="bold" text-anchor="middle">Inhibition of TNF-α higher than 30%</text>
<path d="M436.1 603V491.3H462.7V603Z" fill="#dedeff" stroke="none"/>
<path d="M436.1 603V491.3H462.7V603" fill="none" stroke="#c4c4ff" stroke-width="1.8" stroke-linejoin="miter"/>
<path d="M479.45 603V491.5H506.05V603Z" fill="#c8b88c" stroke="none"/>
<path d="M479.45 603V491.5H506.05V603" fill="none" stroke="#a06a2a" stroke-width="1.8" stroke-linejoin="miter"/>
<path d="M522.8 603V516.9H549.4V603Z" fill="#8080c0" stroke="none"/>
<path d="M522.8 603V516.9H549.4V603" fill="none" stroke="#10108a" stroke-width="1.8" stroke-linejoin="miter"/>
<path d="M566.15 603V520.9H592.75V603Z" fill="#dedc80" stroke="none"/>
<path d="M566.15 603V520.9H592.75V603" fill="none" stroke="#c8c000" stroke-width="1.8" stroke-linejoin="miter"/>
<path d="M609.5 603V532.5H636.1V603Z" fill="#7f7f7f" stroke="none"/>
<path d="M609.5 603V532.5H636.1V603" fill="none" stroke="#111111" stroke-width="1.8" stroke-linejoin="miter"/>
<path d="M420 370.5V603" stroke="#2a2a2a" stroke-width="1.35" fill="none"/>
<path d="M416 603H652.4" stroke="#2a2a2a" stroke-width="1.35" fill="none"/>
<path d="M416 603H420" stroke="#2a2a2a" stroke-width="1.1" fill="none"/>
<text x="414.7" y="606.22" font-size="9.0" font-weight="bold" text-anchor="end">0</text>
<path d="M416 556.6H420" stroke="#2a2a2a" stroke-width="1.1" fill="none"/>
<text x="414.7" y="559.82" font-size="9.0" font-weight="bold" text-anchor="end">20</text>
<path d="M416 510.2H420" stroke="#2a2a2a" stroke-width="1.1" fill="none"/>
<text x="414.7" y="513.42" font-size="9.0" font-weight="bold" text-anchor="end">40</text>
<path d="M416 463.8H420" stroke="#2a2a2a" stroke-width="1.1" fill="none"/>
<text x="414.7" y="467.02" font-size="9.0" font-weight="bold" text-anchor="end">60</text>
<path d="M416 417.4H420" stroke="#2a2a2a" stroke-width="1.1" fill="none"/>
<text x="414.7" y="420.62" font-size="9.0" font-weight="bold" text-anchor="end">80</text>
<path d="M416 371H420" stroke="#2a2a2a" stroke-width="1.1" fill="none"/>
<text x="414.7" y="374.22" font-size="9.0" font-weight="bold" text-anchor="end">100</text>
<path d="M449.4 603V607" stroke="#000" stroke-width="1.15" fill="none"/>
<path d="M492.75 603V607" stroke="#000" stroke-width="1.15" fill="none"/>
<path d="M536.1 603V607" stroke="#000" stroke-width="1.15" fill="none"/>
<path d="M579.45 603V607" stroke="#000" stroke-width="1.15" fill="none"/>
<path d="M622.8 603V607" stroke="#000" stroke-width="1.15" fill="none"/>
<path d="M449.4 478.6V501.6M442.4 478.6H456.4M442.4 501.6H456.4" stroke="#c0c0ff" stroke-width="0.9" fill="none"/>
<circle cx="449.4" cy="475" r="2.0" fill="#c0c0ff"/>
<circle cx="449.4" cy="483" r="2.0" fill="#c0c0ff"/>
<circle cx="449.4" cy="512.6" r="2.0" fill="#c0c0ff"/>
<path d="M492.75 481V499.4M485.75 481H499.75M485.75 499.4H499.75" stroke="#98601e" stroke-width="0.9" fill="none"/>
<circle cx="488.75" cy="480.6" r="2.0" fill="#98601e"/>
<circle cx="496.75" cy="481.6" r="2.0" fill="#98601e"/>
<circle cx="492.75" cy="508" r="2.0" fill="#98601e"/>
<path d="M536.1 509.4V521.4M529.1 509.4H543.1M529.1 521.4H543.1" stroke="#000080" stroke-width="0.9" fill="none"/>
<circle cx="532.1" cy="507.6" r="2.0" fill="#000080"/>
<circle cx="540.1" cy="511.4" r="2.0" fill="#000080"/>
<circle cx="536.1" cy="527.4" r="2.0" fill="#000080"/>
<path d="M579.45 514.4V524.4M572.45 514.4H586.45M572.45 524.4H586.45" stroke="#c8c000" stroke-width="0.9" fill="none"/>
<circle cx="579.45" cy="512" r="2.0" fill="#c8c000"/>
<circle cx="579.45" cy="517.6" r="2.0" fill="#c8c000"/>
<circle cx="579.45" cy="528.6" r="2.0" fill="#c8c000"/>
<circle cx="615" cy="531.6" r="2.0" fill="#000000"/>
<circle cx="622.8" cy="530.6" r="2.0" fill="#000000"/>
<circle cx="630.6" cy="531.6" r="2.0" fill="#000000"/>
<text transform="translate(452.8,615.2) rotate(-45)" font-size="9.7" text-anchor="end"><tspan font-style="italic" font-weight="normal" stroke-width="0.12">trans</tspan><tspan font-weight="bold">-3ab</tspan></text>
<text transform="translate(496.15,615.2) rotate(-45)" font-size="9.7" text-anchor="end"><tspan font-style="italic" font-weight="normal" stroke-width="0.12">cis</tspan><tspan font-weight="bold">-3j</tspan></text>
<text transform="translate(539.5,615.2) rotate(-45)" font-size="9.7" text-anchor="end"><tspan font-style="italic" font-weight="normal" stroke-width="0.12">cis</tspan><tspan font-weight="bold">-3l</tspan></text>
<text transform="translate(582.85,615.2) rotate(-45)" font-size="9.7" text-anchor="end"><tspan font-style="italic" font-weight="normal" stroke-width="0.12">trans</tspan><tspan font-weight="bold">-3y</tspan></text>
<text transform="translate(626.2,615.2) rotate(-45)" font-size="9.7" text-anchor="end"><tspan font-style="italic" font-weight="normal" stroke-width="0.12">cis</tspan><tspan font-weight="bold">-3f</tspan></text>
<text x="36" y="691.5" font-size="18.5" font-weight="bold" text-anchor="start">e</text>
<text transform="translate(65.4,763.1) rotate(-90)" font-size="8" font-weight="bold" text-anchor="middle">Fold change of IL-1β</text>
<text x="41.9" y="923" font-size="8" font-weight="bold" text-anchor="middle">70%</text>
<text x="42.7" y="932.6" font-size="8" font-weight="bold" text-anchor="middle">(As opposed to LPS)</text>
<path d="M92.7 947.6V947.1H101.5V947.6Z" fill="#cac8a0" stroke="none"/>
<path d="M92.7 947.6V947.1H101.5V947.6" fill="none" stroke="#b5ab72" stroke-width="1.5" stroke-linejoin="miter"/>
<path d="M107.97 947.6V915.95H116.77V947.6Z" fill="#ff8080" stroke="none"/>
<path d="M107.97 947.6V915.95H116.77V947.6" fill="none" stroke="#ff1111" stroke-width="1.5" stroke-linejoin="miter"/>
<path d="M123.24 947.6V887.15H132.04V947.6Z" fill="#80e080" stroke="none"/>
<path d="M123.24 947.6V887.15H132.04V947.6" fill="none" stroke="#14c014" stroke-width="1.5" stroke-linejoin="miter"/>
<path d="M138.51 947.6V902.45H147.31V947.6Z" fill="#d880f0" stroke="none"/>
<path d="M138.51 947.6V902.45H147.31V947.6" fill="none" stroke="#a800e6" stroke-width="1.5" stroke-linejoin="miter"/>
<path d="M153.78 947.6V921.45H162.58V947.6Z" fill="#ffc080" stroke="none"/>
<path d="M153.78 947.6V921.45H162.58V947.6" fill="none" stroke="#ff8410" stroke-width="1.5" stroke-linejoin="miter"/>
<path d="M169.05 947.6V918.85H177.85V947.6Z" fill="#808080" stroke="none"/>
<path d="M169.05 947.6V918.85H177.85V947.6" fill="none" stroke="#141414" stroke-width="1.5" stroke-linejoin="miter"/>
<path d="M184.32 947.6V728.75H193.12V947.6Z" fill="#c8ab88" stroke="none"/>
<path d="M184.32 947.6V728.75H193.12V947.6" fill="none" stroke="#9c6826" stroke-width="1.5" stroke-linejoin="miter"/>
<path d="M199.59 947.6V877.85H208.39V947.6Z" fill="#8080c0" stroke="none"/>
<path d="M199.59 947.6V877.85H208.39V947.6" fill="none" stroke="#14148c" stroke-width="1.5" stroke-linejoin="miter"/>
<path d="M214.86 947.6V883.35H223.66V947.6Z" fill="#b080a8" stroke="none"/>
<path d="M214.86 947.6V883.35H223.66V947.6" fill="none" stroke="#6a0a5e" stroke-width="1.5" stroke-linejoin="miter"/>
<path d="M230.13 947.6V902.65H238.93V947.6Z" fill="#d48080" stroke="none"/>
<path d="M230.13 947.6V902.65H238.93V947.6" fill="none" stroke="#a81818" stroke-width="1.5" stroke-linejoin="miter"/>
<path d="M245.4 947.6V934.05H254.2V947.6Z" fill="#80b088" stroke="none"/>
<path d="M245.4 947.6V934.05H254.2V947.6" fill="none" stroke="#106a40" stroke-width="1.5" stroke-linejoin="miter"/>
<path d="M260.67 947.6V899.95H269.47V947.6Z" fill="#f9dcc4" stroke="none"/>
<path d="M260.67 947.6V899.95H269.47V947.6" fill="none" stroke="#f4c494" stroke-width="1.5" stroke-linejoin="miter"/>
<path d="M275.94 947.6V796.15H284.74V947.6Z" fill="#80ff80" stroke="none"/>
<path d="M275.94 947.6V796.15H284.74V947.6" fill="none" stroke="#00f000" stroke-width="1.5" stroke-linejoin="miter"/>
<path d="M291.21 947.6V883.05H300.01V947.6Z" fill="#c8dfff" stroke="none"/>
<path d="M291.21 947.6V883.05H300.01V947.6" fill="none" stroke="#9cc4ff" stroke-width="1.5" stroke-linejoin="miter"/>
<path d="M306.48 947.6V897.75H315.28V947.6Z" fill="#dcdcff" stroke="none"/>
<path d="M306.48 947.6V897.75H315.28V947.6" fill="none" stroke="#c0c0ff" stroke-width="1.5" stroke-linejoin="miter"/>
<path d="M321.75 947.6V920.15H330.55V947.6Z" fill="#b0b0b0" stroke="none"/>
<path d="M321.75 947.6V920.15H330.55V947.6" fill="none" stroke="#747474" stroke-width="1.5" stroke-linejoin="miter"/>
<path d="M337.02 947.6V874.85H345.82V947.6Z" fill="#ffff80" stroke="none"/>
<path d="M337.02 947.6V874.85H345.82V947.6" fill="none" stroke="#ffff00" stroke-width="1.5" stroke-linejoin="miter"/>
<path d="M82.6 924.5H349.9" stroke="#151515" stroke-width="0.95" stroke-dasharray="2.3 1.9" fill="none"/>
<path d="M87.2 682.5V947.6" stroke="#111" stroke-width="1.35" fill="none"/>
<path d="M84 947.6H352" stroke="#111" stroke-width="1.35" fill="none"/>
<path d="M84 947.6H87.2" stroke="#111" stroke-width="1.1" fill="none"/>
<text x="82.4" y="950.39" font-size="7.8" font-weight="bold" text-anchor="end">0</text>
<path d="M84 859.4H87.2" stroke="#111" stroke-width="1.1" fill="none"/>
<text x="82.4" y="862.19" font-size="7.8" font-weight="bold" text-anchor="end">200</text>
<path d="M84 771.2H87.2" stroke="#111" stroke-width="1.1" fill="none"/>
<text x="82.4" y="773.99" font-size="7.8" font-weight="bold" text-anchor="end">400</text>
<path d="M84 683H87.2" stroke="#111" stroke-width="1.1" fill="none"/>
<text x="82.4" y="685.79" font-size="7.8" font-weight="bold" text-anchor="end">600</text>
<path d="M97.1 947.6V951.6" stroke="#000" stroke-width="1.15" fill="none"/>
<path d="M112.37 947.6V951.6" stroke="#000" stroke-width="1.15" fill="none"/>
<path d="M127.64 947.6V951.6" stroke="#000" stroke-width="1.15" fill="none"/>
<path d="M142.91 947.6V951.6" stroke="#000" stroke-width="1.15" fill="none"/>
<path d="M158.18 947.6V951.6" stroke="#000" stroke-width="1.15" fill="none"/>
<path d="M173.45 947.6V951.6" stroke="#000" stroke-width="1.15" fill="none"/>
<path d="M188.72 947.6V951.6" stroke="#000" stroke-width="1.15" fill="none"/>
<path d="M203.99 947.6V951.6" stroke="#000" stroke-width="1.15" fill="none"/>
<path d="M219.26 947.6V951.6" stroke="#000" stroke-width="1.15" fill="none"/>
<path d="M234.53 947.6V951.6" stroke="#000" stroke-width="1.15" fill="none"/>
<path d="M249.8 947.6V951.6" stroke="#000" stroke-width="1.15" fill="none"/>
<path d="M265.07 947.6V951.6" stroke="#000" stroke-width="1.15" fill="none"/>
<path d="M280.34 947.6V951.6" stroke="#000" stroke-width="1.15" fill="none"/>
<path d="M295.61 947.6V951.6" stroke="#000" stroke-width="1.15" fill="none"/>
<path d="M310.88 947.6V951.6" stroke="#000" stroke-width="1.15" fill="none"/>
<path d="M326.15 947.6V951.6" stroke="#000" stroke-width="1.15" fill="none"/>
<path d="M341.42 947.6V951.6" stroke="#000" stroke-width="1.15" fill="none"/>
<circle cx="93.7" cy="947.2" r="1.8" fill="#b3aa74"/>
<circle cx="97.1" cy="947.2" r="1.8" fill="#b3aa74"/>
<circle cx="100.5" cy="947.2" r="1.8" fill="#b3aa74"/>
<circle cx="108.57" cy="914.5" r="1.8" fill="#ff0000"/>
<circle cx="112.37" cy="913.4" r="1.8" fill="#ff0000"/>
<circle cx="115.97" cy="914.5" r="1.8" fill="#ff0000"/>
<circle cx="124.44" cy="883.3" r="1.8" fill="#10c010"/>
<circle cx="131.44" cy="885.7" r="1.8" fill="#10c010"/>
<circle cx="124.44" cy="888.2" r="1.8" fill="#10c010"/>
<circle cx="139.61" cy="901" r="1.8" fill="#a400e4"/>
<circle cx="142.91" cy="898.6" r="1.8" fill="#a400e4"/>
<circle cx="146.51" cy="900.6" r="1.8" fill="#a400e4"/>
<circle cx="154.58" cy="921" r="1.8" fill="#ff8000"/>
<circle cx="158.18" cy="919.5" r="1.8" fill="#ff8000"/>
<circle cx="161.78" cy="921" r="1.8" fill="#ff8000"/>
<circle cx="169.65" cy="918.1" r="1.8" fill="#000000"/>
<circle cx="173.45" cy="916.7" r="1.8" fill="#000000"/>
<circle cx="177.15" cy="917" r="1.8" fill="#000000"/>
<circle cx="188.72" cy="724.4" r="1.8" fill="#946020"/>
<circle cx="185.72" cy="728.5" r="1.8" fill="#946020"/>
<circle cx="191.72" cy="728.5" r="1.8" fill="#946020"/>
<path d="M203.99 876.4V878M201.57 876.4H206.41M201.57 878H206.41" stroke="#000088" stroke-width="0.9" fill="none"/>
<circle cx="200.49" cy="874.2" r="1.8" fill="#000088"/>
<circle cx="207.49" cy="875.3" r="1.8" fill="#000088"/>
<circle cx="203.99" cy="881.1" r="1.8" fill="#000088"/>
<path d="M219.26 880.6V884.6M216.84 880.6H221.68M216.84 884.6H221.68" stroke="#640058" stroke-width="0.9" fill="none"/>
<circle cx="215.86" cy="878.8" r="1.8" fill="#640058"/>
<circle cx="222.86" cy="882.2" r="1.8" fill="#640058"/>
<circle cx="219.26" cy="886.2" r="1.8" fill="#640058"/>
<circle cx="231.03" cy="899" r="1.8" fill="#b00000"/>
<circle cx="238.03" cy="900.1" r="1.8" fill="#b00000"/>
<circle cx="234.53" cy="904.9" r="1.8" fill="#b00000"/>
<circle cx="246" cy="933.5" r="1.8" fill="#005a18"/>
<circle cx="249.8" cy="932" r="1.8" fill="#005a18"/>
<circle cx="253.5" cy="933.5" r="1.8" fill="#005a18"/>
<circle cx="261.47" cy="899.5" r="1.8" fill="#f0b888"/>
<circle cx="265.07" cy="897" r="1.8" fill="#f0b888"/>
<circle cx="268.67" cy="899.2" r="1.8" fill="#f0b888"/>
<path d="M280.34 790V800.5M277.92 790H282.76M277.92 800.5H282.76" stroke="#00e800" stroke-width="0.9" fill="none"/>
<circle cx="280.34" cy="785.6" r="1.8" fill="#00e800"/>
<circle cx="280.34" cy="797" r="1.8" fill="#00e800"/>
<circle cx="280.34" cy="804.4" r="1.8" fill="#00e800"/>
<circle cx="295.61" cy="879.1" r="1.8" fill="#8ab8ff"/>
<circle cx="291.41" cy="882.6" r="1.8" fill="#8ab8ff"/>
<circle cx="299.41" cy="882.6" r="1.8" fill="#8ab8ff"/>
<circle cx="307.28" cy="894.8" r="1.8" fill="#b8b8ff"/>
<circle cx="314.18" cy="897.5" r="1.8" fill="#b8b8ff"/>
<circle cx="307.28" cy="899.2" r="1.8" fill="#b8b8ff"/>
<path d="M326.15 918V921M323.73 918H328.57M323.73 921H328.57" stroke="#606060" stroke-width="0.9" fill="none"/>
<circle cx="326.15" cy="915.4" r="1.8" fill="#606060"/>
<circle cx="322.55" cy="921" r="1.8" fill="#606060"/>
<circle cx="329.75" cy="919.4" r="1.8" fill="#606060"/>
<path d="M341.42 870.8V877.4M339 870.8H343.84M339 877.4H343.84" stroke="#f8f000" stroke-width="0.9" fill="none"/>
<circle cx="341.42" cy="868.1" r="1.8" fill="#f8f000"/>
<circle cx="341.42" cy="873" r="1.8" fill="#f8f000"/>
<circle cx="341.42" cy="879.1" r="1.8" fill="#f8f000"/>
<text transform="translate(99.7,958.6) rotate(-45)" font-size="8" text-anchor="end"><tspan font-weight="bold">Ctrl</tspan></text>
<text transform="translate(114.97,958.6) rotate(-45)" font-size="8" text-anchor="end"><tspan font-weight="bold">LPS</tspan></text>
<text transform="translate(130.24,958.6) rotate(-45)" font-size="8" text-anchor="end"><tspan font-style="italic" font-weight="normal" stroke-width="0.12">cis</tspan><tspan font-weight="bold">-3b</tspan></text>
<text transform="translate(145.51,958.6) rotate(-45)" font-size="8" text-anchor="end"><tspan font-style="italic" font-weight="normal" stroke-width="0.12">cis</tspan><tspan font-weight="bold">-3f</tspan></text>
<text transform="translate(160.78,958.6) rotate(-45)" font-size="8" text-anchor="end"><tspan font-style="italic" font-weight="normal" stroke-width="0.12">cis</tspan><tspan font-weight="bold">-3j</tspan></text>
<text transform="translate(176.05,958.6) rotate(-45)" font-size="8" text-anchor="end"><tspan font-style="italic" font-weight="normal" stroke-width="0.12">cis</tspan><tspan font-weight="bold">-3l</tspan></text>
<text transform="translate(191.32,958.6) rotate(-45)" font-size="8" text-anchor="end"><tspan font-style="italic" font-weight="normal" stroke-width="0.12">cis</tspan><tspan font-weight="bold">-3m</tspan></text>
<text transform="translate(206.59,958.6) rotate(-45)" font-size="8" text-anchor="end"><tspan font-style="italic" font-weight="normal" stroke-width="0.12">cis</tspan><tspan font-weight="bold">-3o</tspan></text>
<text transform="translate(221.86,958.6) rotate(-45)" font-size="8" text-anchor="end"><tspan font-style="italic" font-weight="normal" stroke-width="0.12">cis</tspan><tspan font-weight="bold">-3p</tspan></text>
<text transform="translate(237.13,958.6) rotate(-45)" font-size="8" text-anchor="end"><tspan font-style="italic" font-weight="normal" stroke-width="0.12">cis</tspan><tspan font-weight="bold">-3ak</tspan></text>
<text transform="translate(252.4,958.6) rotate(-45)" font-size="8" text-anchor="end"><tspan font-style="italic" font-weight="normal" stroke-width="0.12">trans</tspan><tspan font-weight="bold">-3ab</tspan></text>
<text transform="translate(267.67,958.6) rotate(-45)" font-size="8" text-anchor="end"><tspan font-style="italic" font-weight="normal" stroke-width="0.12">trans</tspan><tspan font-weight="bold">-3w</tspan></text>
<text transform="translate(282.94,958.6) rotate(-45)" font-size="8" text-anchor="end"><tspan font-style="italic" font-weight="normal" stroke-width="0.12">trans</tspan><tspan font-weight="bold">-3aa</tspan></text>
<text transform="translate(298.21,958.6) rotate(-45)" font-size="8" text-anchor="end"><tspan font-style="italic" font-weight="normal" stroke-width="0.12">trans</tspan><tspan font-weight="bold">-3ad</tspan></text>
<text transform="translate(313.48,958.6) rotate(-45)" font-size="8" text-anchor="end"><tspan font-style="italic" font-weight="normal" stroke-width="0.12">trans</tspan><tspan font-weight="bold">-3ac</tspan></text>
<text transform="translate(328.75,958.6) rotate(-45)" font-size="8" text-anchor="end"><tspan font-style="italic" font-weight="normal" stroke-width="0.12">trans</tspan><tspan font-weight="bold">-3y</tspan></text>
<text transform="translate(344.02,958.6) rotate(-45)" font-size="8" text-anchor="end"><tspan font-style="italic" font-weight="normal" stroke-width="0.12">trans</tspan><tspan font-weight="bold">-3z</tspan></text>
<text x="376" y="690.6" font-size="18.5" font-weight="bold" text-anchor="start">f</text>
<text transform="translate(375.6,870.3) rotate(-90)" font-size="10" font-weight="bold" text-anchor="middle">Inhibition of IL-1β higher than 30%</text>
<path d="M460.8 950V857H538.8V950Z" fill="#e0e0ff" stroke="none"/>
<path d="M460.8 950V857H538.8V950" fill="none" stroke="#c0c0ff" stroke-width="1.6" stroke-linejoin="miter"/>
<path d="M419.5 788.5V950" stroke="#222" stroke-width="1.35" fill="none"/>
<path d="M415.3 950H580.7" stroke="#222" stroke-width="1.35" fill="none"/>
<path d="M415.3 950H419.5" stroke="#222" stroke-width="1.1" fill="none"/>
<text x="414.3" y="953.54" font-size="9.9" font-weight="bold" text-anchor="end">0</text>
<path d="M415.3 917.8H419.5" stroke="#222" stroke-width="1.1" fill="none"/>
<text x="414.3" y="921.34" font-size="9.9" font-weight="bold" text-anchor="end">20</text>
<path d="M415.3 885.6H419.5" stroke="#222" stroke-width="1.1" fill="none"/>
<text x="414.3" y="889.14" font-size="9.9" font-weight="bold" text-anchor="end">40</text>
<path d="M415.3 853.4H419.5" stroke="#222" stroke-width="1.1" fill="none"/>
<text x="414.3" y="856.94" font-size="9.9" font-weight="bold" text-anchor="end">60</text>
<path d="M415.3 821.2H419.5" stroke="#222" stroke-width="1.1" fill="none"/>
<text x="414.3" y="824.74" font-size="9.9" font-weight="bold" text-anchor="end">80</text>
<path d="M415.3 789H419.5" stroke="#222" stroke-width="1.1" fill="none"/>
<text x="414.3" y="792.54" font-size="9.9" font-weight="bold" text-anchor="end">100</text>
<path d="M499.8 950V954" stroke="#000" stroke-width="1.15" fill="none"/>
<path d="M499.8 852.8V858.9M479.8 852.8H519.8M479.8 858.9H519.8" stroke="#b8b8ff" stroke-width="0.9" fill="none"/>
<circle cx="495.8" cy="850.9" r="1.9" fill="#b8b8ff"/>
<circle cx="503.8" cy="854.4" r="1.9" fill="#b8b8ff"/>
<circle cx="499.8" cy="861.3" r="1.9" fill="#b8b8ff"/>
<text transform="translate(503.2,962.2) rotate(-45)" font-size="9.7" text-anchor="end"><tspan font-style="italic" font-weight="normal" stroke-width="0.12">trans</tspan><tspan font-weight="bold">-3ab</tspan></text>
</g>
</svg>
</body></html>
